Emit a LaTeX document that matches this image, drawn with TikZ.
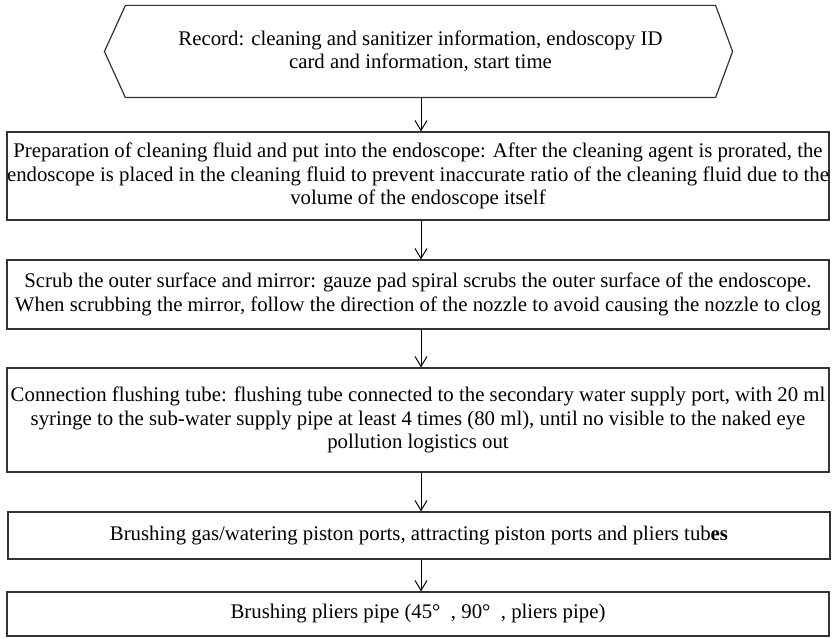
\documentclass[tikz,border=0pt]{standalone}
\usepackage{fontspec}
\setmainfont{Liberation Serif}
\usetikzlibrary{arrows.meta,calc}
\tikzset{every picture/.style={line width=0.75pt}}

\begin{document}
\begin{tikzpicture}[x=1pt, y=1pt,
    stepbox/.style={draw=black!80, line width=1.2pt, minimum width=822pt, align=center,
        inner sep=0pt, font=\fontsize{20.8}{23.5}\selectfont},
    flow/.style={-{Straight Barb[length=10pt, width=12pt]}, line width=1pt}]
    \useasboundingbox (0,0) rectangle (832,638);

    % 起始记录（六边形）
    \node[stepbox, draw=none, minimum width=589pt, minimum height=91pt] (record) at (420.5,586.5)
        {Record: cleaning and sanitizer information, endoscopy ID\\card and information, start time};
    \draw[draw=black!80, line width=1.2pt] (record.north west) -- (record.north east)
        -- ([xshift=17pt]record.east) -- (record.south east) -- (record.south west)
        -- ([xshift=-21pt]record.west) -- cycle;

    % 各个步骤
    \node[stepbox, minimum height=88pt] (prep) at (418,462)
        {Preparation of cleaning fluid and put into the endoscope: After the cleaning agent is prorated, the\\
         endoscope is placed in the cleaning fluid to prevent inaccurate ratio of the cleaning fluid due to the\\
         volume of the endoscope itself};
    \node[stepbox, minimum height=69pt] (scrub) at (418,343.5)
        {Scrub the outer surface and mirror: gauze pad spiral scrubs the outer surface of the endoscope.\\
         When scrubbing the mirror, follow the direction of the nozzle to avoid causing the nozzle to clog};
    \node[stepbox, minimum height=104pt] (flush) at (418,218)
        {Connection flushing tube: flushing tube connected to the secondary water supply port, with 20 ml\\
         syringe to the sub-water supply pipe at least 4 times (80 ml), until no visible to the naked eye\\
         pollution logistics out};
    \node[stepbox, minimum height=47pt] (ports) at (419,102.5)
        {Brushing gas/watering piston ports, attracting piston ports and pliers tub\textbf{es}};
    \node[stepbox, minimum height=44pt] (pliers) at (418,24)
        {Brushing pliers pipe (45°\ \ , 90°\ \ , pliers pipe)};

    % 箭头
    \draw[flow] (record.south -| 421,0) -- (prep.north -| 421,0);
    \draw[flow] (prep.south -| 421,0) -- (scrub.north -| 421,0);
    \draw[flow] (scrub.south -| 421,0) -- (flush.north -| 421,0);
    \draw[flow] (flush.south -| 421,0) -- (ports.north -| 421,0);
    \draw[flow] (ports.south -| 421,0) -- (pliers.north -| 421,0);
\end{tikzpicture}
\end{document}
